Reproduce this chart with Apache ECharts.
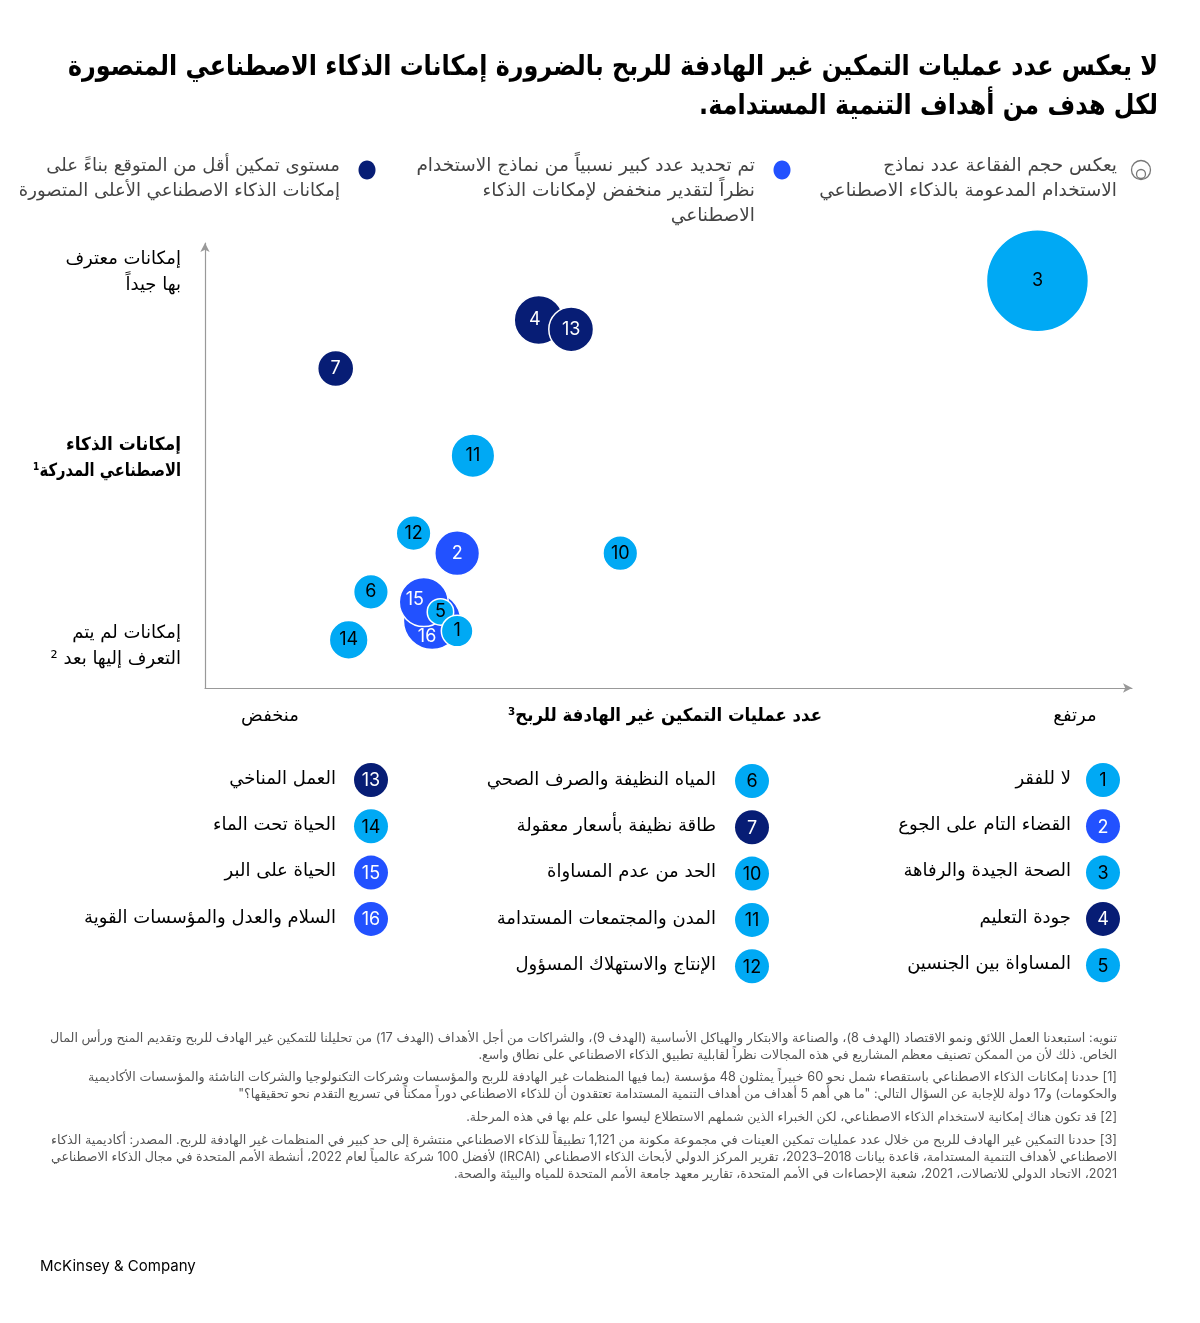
<!DOCTYPE html>
<html>
<head>
<meta charset="utf-8">
<script src="https://cdn.jsdelivr.net/npm/echarts@6/dist/echarts.min.js"></script>
<style>html,body{margin:0;padding:0;background:#fff}#c{width:1200px;height:1323px}</style>
</head>
<body>
<div id="c" dir="rtl"></div>
<script>
// ---------- data ----------
const titleLines = [
  'لا يعكس عدد عمليات التمكين غير الهادفة للربح بالضرورة إمكانات الذكاء الاصطناعي المتصورة',
  'لكل هدف من أهداف التنمية المستدامة.'
];
const legendTexts = [
  ['يعكس حجم الفقاعة عدد نماذج', 'الاستخدام المدعومة بالذكاء الاصطناعي'],
  ['تم تحديد عدد كبير نسبياً من نماذج الاستخدام', 'نظراً لتقدير منخفض لإمكانات الذكاء', 'الاصطناعي'],
  ['مستوى تمكين أقل من المتوقع بناءً على', 'إمكانات الذكاء الاصطناعي الأعلى المتصورة']
];
const yAxisLabels = [
  ['إمكانات معترف', 'بها جيداً'],
  ['إمكانات الذكاء', 'الاصطناعي المدركة¹'],
  ['إمكانات لم يتم', 'التعرف إليها بعد ²']
];
const xAxisLabels = ['منخفض', 'عدد عمليات التمكين غير الهادفة للربح³', 'مرتفع'];

// bubbles (drawing order: later on top)
const sdgIds     = [3,    4,    13,   7,    11,   12,   2,    10,   6,    14,   16,   15,   5,    1];
const enablement = [89.8, 36.0, 39.5, 14.1, 28.9, 22.5, 27.2, 44.8, 17.9, 15.5, 24.5, 23.6, 25.4, 27.2];
const potential  = [91.5, 82.7, 80.6, 71.8, 52.2, 34.8, 30.3, 30.3, 21.6, 10.8, 15.1, 19.3, 17.1, 12.8];
const useCases   = [104,  24,   20,   13,   19,   12,   20,   12,   12,   15,   33,   24,   7,    10];
const group      = ['base','low','low','low','base','base','high','base','base','base','high','high','base','base'];

const goalNames = {
  1: 'لا للفقر',
  2: 'القضاء التام على الجوع',
  3: 'الصحة الجيدة والرفاهة',
  4: 'جودة التعليم',
  5: 'المساواة بين الجنسين',
  6: 'المياه النظيفة والصرف الصحي',
  7: 'طاقة نظيفة بأسعار معقولة',
  10: 'الحد من عدم المساواة',
  11: 'المدن والمجتمعات المستدامة',
  12: 'الإنتاج والاستهلاك المسؤول',
  13: 'العمل المناخي',
  14: 'الحياة تحت الماء',
  15: 'الحياة على البر',
  16: 'السلام والعدل والمؤسسات القوية'
};
const legendColumns = [[1,2,3,4,5],[6,7,10,11,12],[13,14,15,16]];

const footnotes = [
  'تنويه: استبعدنا العمل اللائق ونمو الاقتصاد (الهدف 8)، والصناعة والابتكار والهياكل الأساسية (الهدف 9)، والشراكات من أجل الأهداف (الهدف 17) من تحليلنا للتمكين غير الهادف للربح وتقديم المنح ورأس المال',
  'الخاص. ذلك لأن من الممكن تصنيف معظم المشاريع في هذه المجالات نظراً لقابلية تطبيق الذكاء الاصطناعي على نطاق واسع.',
  '[1] حددنا إمكانات الذكاء الاصطناعي باستقصاء شمل نحو 60 خبيراً يمثلون 48 مؤسسة (بما فيها المنظمات غير الهادفة للربح والمؤسسات وشركات التكنولوجيا والشركات الناشئة والمؤسسات الأكاديمية',
  'والحكومات) و17 دولة للإجابة عن السؤال التالي: "ما هي أهم 5 أهداف من أهداف التنمية المستدامة تعتقدون أن للذكاء الاصطناعي دوراً ممكناً في تسريع التقدم نحو تحقيقها؟"',
  '[2] قد تكون هناك إمكانية لاستخدام الذكاء الاصطناعي، لكن الخبراء الذين شملهم الاستطلاع ليسوا على علم بها في هذه المرحلة.',
  '[3] حددنا التمكين غير الهادف للربح من خلال عدد عمليات تمكين العينات في مجموعة مكونة من 1,121 تطبيقاً للذكاء الاصطناعي منتشرة إلى حد كبير في المنظمات غير الهادفة للربح. المصدر: أكاديمية الذكاء',
  'الاصطناعي لأهداف التنمية المستدامة، قاعدة بيانات 2018–2023، تقرير المركز الدولي لأبحاث الذكاء الاصطناعي (IRCAI) لأفضل 100 شركة عالمياً لعام 2022، أنشطة الأمم المتحدة في مجال الذكاء الاصطناعي',
  '2021، الاتحاد الدولي للاتصالات، 2021، شعبة الإحصاءات في الأمم المتحدة، تقارير معهد جامعة الأمم المتحدة للمياه والبيئة والصحة.'
];
const sourceText = 'McKinsey & Company';

// ---------- styles ----------
const COLORS = {base: '#00A9F4', high: '#2251FF', low: '#071D75'};
const TEXT_ON = {base: '#000000', high: '#ffffff', low: '#ffffff'};
const FF = "Inter, 'DejaVu Sans', sans-serif";
const AR = "'DejaVu Sans', sans-serif";
const labelOffsets = {16: [-5, 16], 15: [-9, -3], 4: [-4, 0]};

const groupOf = {};
sdgIds.forEach((id, i) => { groupOf[id] = group[i]; });

const data = sdgIds.map((id, i) => ({
  name: String(id),
  value: [enablement[i], potential[i], useCases[i]],
  itemStyle: {color: COLORS[group[i]]},
  label: {color: TEXT_ON[group[i]], offset: labelOffsets[id] || [0, 0]}
}));

// ---------- text helpers ----------
const mctx = document.createElement('canvas').getContext('2d');
mctx.direction = 'rtl';
function measure(text, font) { mctx.font = font; return mctx.measureText(text).width; }

const g = [];
function txt(text, x, y, opt, sx) {
  g.push({type: 'text', x: x, y: y, silent: true, scaleX: sx || 1,
    style: Object.assign({text: text, fill: '#000', font: '18px ' + AR, textAlign: 'right', textVerticalAlign: 'middle'}, opt || {})});
}
function fit(text, font, w) { return Math.min(1.08, w / measure(text, font)); }

// title
const titleFont = 'bold 28px ' + AR;
const titleScale = fit(titleLines[0], titleFont, 1090);
titleLines.forEach((t, i) => txt(t, 1158, 68 + i * 39, {font: titleFont, fill: '#000'}, titleScale));
// top legend
const legX = [1117, 755, 340];
const legFonts = ['18.5px ' + AR, '18.5px ' + AR, '18px ' + AR];
legendTexts.forEach((lines, k) => lines.forEach((t, i) => txt(t, legX[k], 166 + i * 25, {font: legFonts[k], fill: '#444'})));
// bubble-size icon
g.push({type: 'circle', shape: {cx: 1141, cy: 170, r: 9.5}, style: {fill: 'none', stroke: '#777', lineWidth: 1.3}, silent: true});
g.push({type: 'circle', shape: {cx: 1141, cy: 174, r: 4.5}, style: {fill: 'none', stroke: '#777', lineWidth: 1.3}, silent: true});
g.push({type: 'ellipse', shape: {cx: 782, cy: 170, rx: 8.5, ry: 9.5}, style: {fill: COLORS.high}, silent: true});
g.push({type: 'ellipse', shape: {cx: 367, cy: 170, rx: 8.5, ry: 9.5}, style: {fill: COLORS.low}, silent: true});
// y axis labels
const yLabY = [259, 445, 633];
const boldY = 'bold 18px ' + AR;
const boldFitW = [115, 148];
yAxisLabels.forEach((lines, k) => lines.forEach((t, i) =>
  txt(t, 181, yLabY[k] + i * 26, {font: k === 1 ? boldY : '18px ' + AR, fill: '#000'}, k === 1 ? fit(t, boldY, boldFitW[i]) : 1)));
// x axis labels
txt(xAxisLabels[0], 270, 716, {textAlign: 'center', font: '18px ' + AR});
const xBold = 'bold 18px ' + AR;
txt(xAxisLabels[1], 665, 716, {textAlign: 'center', font: xBold}, fit(xAxisLabels[1], xBold, 314));
txt(xAxisLabels[2], 1075, 716, {textAlign: 'center', font: '18px ' + AR});
// bottom legend
const colCircleX = [1103, 752, 371];
const colTextX = [1071, 716, 336];
const colY0 = [780, 781, 780];
legendColumns.forEach((ids, c) => ids.forEach((id, r) => {
  const y = colY0[c] + r * 46.3;
  const grp = groupOf[id];
  g.push({type: 'circle', shape: {cx: colCircleX[c], cy: y, r: 17}, style: {fill: COLORS[grp]}, silent: true});
  txt(String(id), colCircleX[c], y + 1, {textAlign: 'center', font: '18px ' + FF, fill: TEXT_ON[grp]});
  txt(goalNames[id], colTextX[c], y - 1, {font: '18px ' + AR, fill: '#000'});
}));
// footnotes
const fnY = [1038, 1055, 1077, 1094, 1117, 1140, 1157, 1174];
const fnFit = [1067, 0, 1029, 0, 0, 1066, 1066, 0];
const fnFont = '12.5px ' + FF;
footnotes.forEach((t, i) => txt(t, 1117, fnY[i], {font: fnFont, fill: '#555'}, fnFit[i] ? fit(t, fnFont, fnFit[i]) : 1));
txt(sourceText, 40, 1266, {textAlign: 'left', font: '15px ' + FF, fill: '#000'});

// ---------- chart ----------
const chart = echarts.init(document.getElementById('c'));
const axisCommon = {
  type: 'value', min: 0, max: 100,
  axisLine: {show: true, onZero: false, symbol: ['none', 'arrow'], symbolSize: [7, 9], lineStyle: {color: '#999', width: 1.2}},
  axisTick: {show: false}, axisLabel: {show: false}, splitLine: {show: false}
};
chart.setOption({
  animation: false,
  backgroundColor: '#fff',
  grid: {left: 205, right: 68, top: 243, bottom: 635},
  xAxis: axisCommon,
  yAxis: axisCommon,
  series: [{
    type: 'scatter',
    data: data,
    symbolSize: v => 10 * Math.sqrt(v[2]),
    itemStyle: {opacity: 1, borderColor: '#fff', borderWidth: 1.5},
    label: {show: true, position: 'inside', formatter: '{b}', fontSize: 18, fontFamily: FF},
    emphasis: {disabled: true}
  }],
  graphic: g
});
</script>
</body>
</html>
